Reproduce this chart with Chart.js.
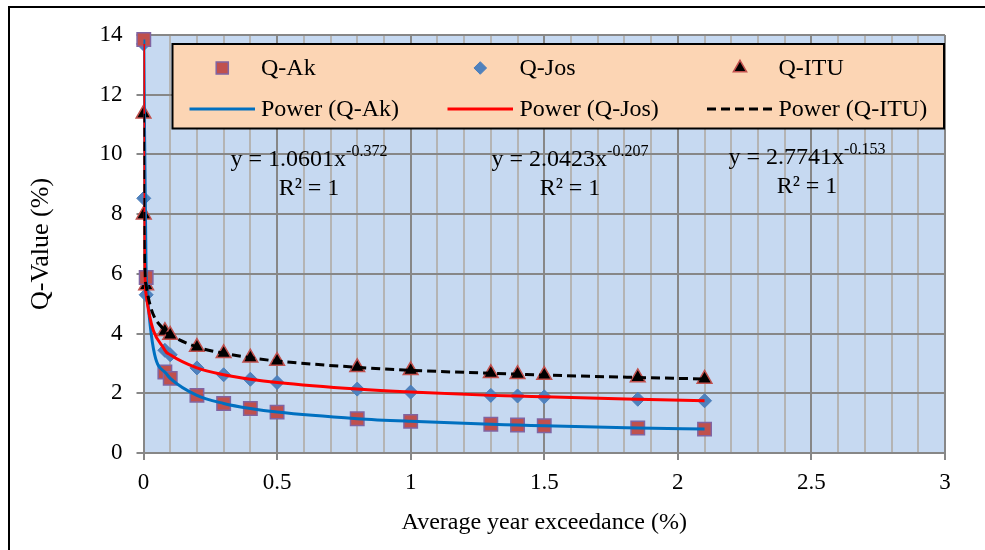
<!DOCTYPE html>
<html>
<head>
<meta charset="utf-8">
<script src="https://cdn.jsdelivr.net/npm/chart.js@4/dist/chart.umd.min.js"></script>
<style>
  html, body { margin:0; padding:0; background:#fff; }
  #wrap { width:985px; height:550px; position:relative; }
</style>
</head>
<body>
<div id="wrap"><canvas id="c" width="985" height="550"></canvas></div>
<script>
'use strict';
// ── Q-value vs average year exceedance ─────────────────────

const xAk  = [0.001, 0.01, 0.08, 0.1, 0.2, 0.3, 0.4, 0.5, 0.8, 1, 1.3, 1.4, 1.5, 1.85, 2.1];
const qAk  = [13.85, 5.88, 2.71, 2.50, 1.93, 1.66, 1.49, 1.37, 1.15, 1.06, 0.96, 0.94, 0.91, 0.84, 0.80];

const xJos = [0.0001, 0.001, 0.01, 0.08, 0.1, 0.2, 0.3, 0.4, 0.5, 0.8, 1, 1.3, 1.4, 1.5, 1.85, 2.1];
const qJos = [13.7, 8.53, 5.30, 3.44, 3.29, 2.85, 2.62, 2.47, 2.36, 2.14, 2.04, 1.93, 1.91, 1.88, 1.80, 1.75];

const xItu = [0.0001, 0.001, 0.01, 0.08, 0.1, 0.2, 0.3, 0.4, 0.5, 0.8, 1, 1.3, 1.4, 1.5, 1.85, 2.1];
const qItu = [11.36, 7.98, 5.61, 4.08, 3.95, 3.55, 3.34, 3.19, 3.08, 2.87, 2.77, 2.67, 2.64, 2.61, 2.53, 2.48];

const seriesNames = ['Q-Ak', 'Q-Jos', 'Q-ITU'];
const trendNames  = ['Power (Q-Ak)', 'Power (Q-Jos)', 'Power (Q-ITU)'];
const eqCoef      = ['1.0601', '2.0423', '2.7741'];
const eqExp       = ['-0.372', '-0.207', '-0.153'];
const eqR2        = ['R² = 1', 'R² = 1', 'R² = 1'];

const xTitle = 'Average year exceedance (%)';
const yTitle = 'Q-Value (%)';

const pts = (xs, ys) => xs.map((x, i) => ({ x, y: ys[i] }));

const FONT = 'Liberation Serif, Times New Roman, serif';
Chart.defaults.font.family = FONT;
Chart.defaults.color = '#000';

const GRID_MAJOR = '#878787';
const GRID_MINOR = '#b4b4b4';
const isMajor = v => Math.abs(v * 2 - Math.round(v * 2)) < 1e-6;

const mk = {
  ak:  { pointStyle:'rect',     radius:9.5, bg:'#c0504d', border:'#8064a2', bw:1.5 },
  jos: { pointStyle:'rectRot',  radius:7,   bg:'#4f81bd', border:'#4a7ebb', bw:1 },
  itu: { pointStyle:'triangle', radius:8.5, bg:'#000000', border:'#c0504d', bw:1.5 },
};
const ln = {
  ak:  { color:'#0070c0', dash:[] },
  jos: { color:'#ff0000', dash:[] },
  itu: { color:'#000000', dash:[9, 5] },
};

function markerSet(label, data, m, order) {
  return {
    label, data, order, showLine:false, clip:12,
    pointStyle:m.pointStyle, pointRadius:m.radius, pointHoverRadius:m.radius,
    pointBackgroundColor:m.bg, pointBorderColor:m.border, pointBorderWidth:m.bw,
  };
}
function trendSet(label, data, l, order) {
  return {
    label, data, order, showLine:true, pointRadius:0,
    borderColor:l.color, borderWidth:3, borderDash:l.dash,
    cubicInterpolationMode:'monotone', fill:false,
  };
}

// ── Background, frame, equations and legend ───────────────
const decor = {
  id:'decor',
  beforeDraw(chart) {
    const { ctx, chartArea:a } = chart;
    ctx.save();
    ctx.fillStyle = '#fff';
    ctx.fillRect(0, 0, chart.width, chart.height);
    ctx.fillStyle = '#c6d9f1';
    ctx.fillRect(a.left, a.top, a.right - a.left, a.bottom - a.top);
    ctx.strokeStyle = '#000';
    ctx.lineWidth = 2;
    ctx.beginPath();
    ctx.moveTo(9, 550); ctx.lineTo(9, 7); ctx.lineTo(985, 7);
    ctx.stroke();
    ctx.restore();
  },
  afterDraw(chart) {
    const ctx = chart.ctx;
    ctx.save();

    // trendline equations
    const eqPos = [[309, 166], [570, 166], [807, 164]];
    eqPos.forEach(([cx, by], i) => {
      ctx.font = '24px ' + FONT;
      const main = 'y = ' + eqCoef[i] + 'x';
      const w1 = ctx.measureText(main).width;
      ctx.font = '16px ' + FONT;
      const w2 = ctx.measureText(eqExp[i]).width;
      const x0 = cx - (w1 + w2) / 2;
      ctx.fillStyle = '#000';
      ctx.textAlign = 'left';
      ctx.textBaseline = 'alphabetic';
      ctx.font = '24px ' + FONT;
      ctx.fillText(main, x0, by);
      ctx.font = '16px ' + FONT;
      ctx.fillText(eqExp[i], x0 + w1, by - 10);
      ctx.font = '24px ' + FONT;
      ctx.textAlign = 'center';
      ctx.fillText(eqR2[i], cx, by + 29);
    });

    // legend box
    const L = 172.5, T = 44, R = 944, B = 128.5;
    ctx.fillStyle = '#fcd5b4';
    ctx.fillRect(L, T, R - L, B - T);
    ctx.strokeStyle = '#000';
    ctx.lineWidth = 2;
    ctx.strokeRect(L, T, R - L, B - T);

    const cols = [[189.5, 255, 261], [447.5, 513, 519.5], [707, 773, 778.5]];
    const row1 = 68, row2 = 109;
    const mks = [mk.ak, mk.jos, mk.itu];
    const lns = [ln.ak, ln.jos, ln.itu];
    ctx.font = '24px ' + FONT;
    ctx.textAlign = 'left';
    ctx.textBaseline = 'middle';
    cols.forEach(([x1, x2, tx], i) => {
      const m = mks[i];
      ctx.fillStyle = m.bg;
      ctx.strokeStyle = m.border;
      ctx.lineWidth = m.bw;
      Chart.helpers.drawPoint(ctx, { pointStyle:m.pointStyle, radius:m.radius * 0.9, borderWidth:m.bw, rotation:0 },
        (x1 + x2) / 2, row1);
      ctx.fillStyle = '#000';
      ctx.fillText(seriesNames[i], tx, row1 + 1);

      const l = lns[i];
      ctx.strokeStyle = l.color;
      ctx.lineWidth = 3;
      ctx.setLineDash(l.dash);
      ctx.beginPath();
      ctx.moveTo(x1, row2); ctx.lineTo(x2, row2);
      ctx.stroke();
      ctx.setLineDash([]);
      ctx.fillText(trendNames[i], tx, row2 + 1);
    });
    ctx.restore();
  },
};

new Chart(document.getElementById('c'), {
  type:'scatter',
  data:{
    datasets:[
      trendSet(trendNames[2], pts(xItu, qItu), ln.itu, 0),
      trendSet(trendNames[1], pts(xJos, qJos), ln.jos, 1),
      trendSet(trendNames[0], pts(xAk,  qAk),  ln.ak,  2),
      markerSet(seriesNames[0], pts(xAk,  qAk),  mk.ak,  3),
      markerSet(seriesNames[2], pts(xItu, qItu), mk.itu, 4),
      markerSet(seriesNames[1], pts(xJos, qJos), mk.jos, 5),
    ],
  },
  options:{
    responsive:false,
    animation:false,
    layout:{ padding:{ top:35, right:40, left:0, bottom:0 } },
    plugins:{ legend:{ display:false }, tooltip:{ enabled:false } },
    scales:{
      x:{
        type:'linear', min:0, max:3,
        afterFit(s) { s.height = 97; },
        border:{ color:GRID_MAJOR, width:2 },
        grid:{
          color:ctx => isMajor(ctx.tick.value) ? GRID_MAJOR : GRID_MINOR,
          lineWidth:2, tickLength:7,
          tickColor:ctx => isMajor(ctx.tick.value) ? GRID_MAJOR : 'rgba(0,0,0,0)',
        },
        ticks:{
          stepSize:0.1, autoSkip:false, maxRotation:0, padding:9,
          font:{ size:23 },
          callback:v => isMajor(v) ? String(Math.round(v * 10) / 10) : '',
        },
        title:{ display:true, text:xTitle, font:{ size:24 }, padding:{ top:4, bottom:13 } },
      },
      y:{
        type:'linear', min:0, max:14,
        afterFit(s) { s.width = 143.5; },
        border:{ color:GRID_MAJOR, width:2 },
        grid:{ color:GRID_MAJOR, lineWidth:2, tickLength:7, tickColor:GRID_MAJOR },
        ticks:{ stepSize:2, padding:14, font:{ size:23 } },
        title:{ display:true, text:yTitle, font:{ size:26 }, padding:{ top:26, bottom:0 } },
      },
    },
  },
  plugins:[decor],
});
</script>
</body>
</html>
